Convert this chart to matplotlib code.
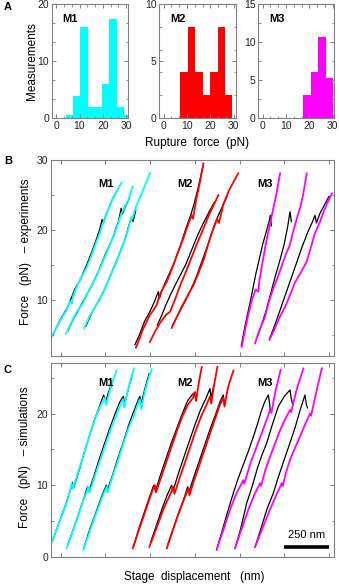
import matplotlib
matplotlib.use('Agg')
import matplotlib.pyplot as plt
from matplotlib.ticker import MultipleLocator, FixedLocator

plt.rcParams['font.family'] = ['Liberation Sans', 'DejaVu Sans']

CYAN = '#00ffff'
RED = '#ff0000'
MAGENTA = '#ff00ff'
SPINE = '#808080'

# ---- panel A: rupture force histograms (bin left edge, width, counts)
m1_edges = [4.2, 7.3, 10.4, 13.5, 16.6, 19.7, 22.8, 25.9, 29.0]
m1_counts = [0.6, 3.9, 16.0, 1.9, 1.9, 6.0, 17.3, 1.9, 0.6]
m1_width = 3.1
m2_edges = [7.1, 10.3, 13.5, 16.7, 19.9, 23.1, 26.3]
m2_counts = [4.0, 8.0, 4.0, 2.0, 4.0, 8.0, 2.0]
m2_width = 3.2
m3_edges = [17.4, 20.6, 23.8, 27.0]
m3_counts = [3.0, 6.0, 10.6, 5.3]
m3_width = 3.2

# ---- panel B: experimental traces, (stage displacement nm, force pN)
exp_m1_col = [
    [(-50, 4.8), (-20, 6.2), (10, 7.6), (30, 8.4), (52, 9.8), (62, 9.5), (70, 10.6), (95, 12.2), (120, 13.4),
     (145, 14.6), (170, 16.2), (200, 18.3), (220, 19.6), (238, 21.0), (260, 22.6), (290, 24.3), (315, 25.6), (341, 26.8)],
    [(30, 5.2), (60, 6.8), (90, 8.3), (126, 9.6), (150, 11.0), (185, 12.6), (220, 14.5), (255, 16.6), (294, 19.0),
     (320, 20.8), (341, 22.4), (360, 23.4), (380, 24.4), (403, 26.2)],
    [(132, 6.0), (160, 7.6), (190, 8.9), (220, 10.2), (250, 11.8), (280, 13.6), (313, 15.5), (340, 17.3), (365, 19.0),
     (388, 21.0), (392, 21.8), (400, 21.6), (425, 23.6), (450, 25.0), (475, 26.6), (499, 28.1)],
]
exp_m1_blk = [
    [(-45, 4.9), (0, 7.3), (40, 9.0), (80, 11.6), (110, 12.9), (150, 15.3), (185, 17.6), (215, 19.8), (232, 21.5),
     (240, 21.0), (255, 22.3), (290, 24.4), (320, 25.8)],
    [(40, 5.6), (70, 7.2), (100, 8.6), (130, 10.0), (170, 11.9), (210, 14.0), (250, 16.5), (290, 18.8), (325, 21.4),
     (338, 23.1), (345, 22.3), (365, 23.5), (385, 24.6)],
    [(140, 6.2), (175, 8.2), (210, 9.8), (240, 11.2), (270, 13.0), (300, 14.8), (330, 16.7), (360, 18.7), (380, 20.5),
     (395, 21.8), (405, 21.2), (420, 22.8)],
]
exp_m2_col = [
    [(421, 3.2), (440, 4.4), (460, 5.8), (481, 6.9), (500, 7.9), (520, 8.6), (537, 9.3), (555, 10.8), (575, 11.8),
     (593, 12.6), (620, 14.3), (650, 16.4), (686, 18.8), (710, 20.6), (732, 22.1), (740, 21.6), (760, 24.6),
     (780, 27.0), (798, 29.5)],
    [(499, 4.0), (530, 5.6), (560, 6.9), (590, 7.9), (611, 8.3), (640, 10.1), (670, 12.2), (700, 14.0), (723, 15.5),
     (760, 17.9), (798, 20.2), (830, 22.2), (860, 23.8), (882, 25.0)],
    [(621, 6.0), (650, 7.6), (680, 9.2), (710, 10.6), (742, 12.1), (770, 13.8), (800, 15.8), (835, 18.8), (860, 20.6),
     (875, 21.6), (885, 21.0), (909, 23.6), (940, 25.6), (965, 26.8), (993, 28.1)],
]
exp_m2_blk = [
    [(415, 3.6), (440, 5.0), (470, 7.0), (500, 8.4), (525, 9.8), (546, 11.2), (552, 10.2), (565, 11.3), (590, 12.8),
     (630, 15.0), (670, 17.8), (700, 20.2), (725, 22.0), (745, 23.6), (770, 26.2), (795, 29.0)],
    [(540, 6.4), (565, 7.8), (590, 9.4), (615, 10.8), (640, 12.1), (670, 13.6), (700, 15.1), (730, 17.0), (765, 19.2),
     (798, 21.0), (830, 22.6), (860, 24.0)],
    [(625, 6.3), (660, 8.1), (700, 10.0), (730, 11.6), (760, 13.4), (795, 15.9), (830, 18.4), (855, 20.4), (880, 22.0),
     (905, 23.4), (930, 24.8)],
]
exp_m3_col = [
    [(1012, 3.3), (1030, 5.6), (1050, 8.0), (1070, 10.0), (1090, 11.5), (1105, 11.2), (1110, 12.6), (1130, 15.6),
     (1150, 18.4), (1170, 20.8), (1190, 23.2), (1205, 25.0), (1227, 28.1)],
    [(1087, 3.8), (1110, 5.6), (1140, 7.4), (1165, 9.8), (1189, 11.7), (1210, 13.0), (1235, 14.8), (1260, 16.6),
     (1282, 17.9), (1300, 19.8), (1320, 21.6), (1338, 23.1), (1355, 25.0), (1376, 28.1)],
    [(1167, 4.3), (1195, 5.8), (1225, 7.6), (1255, 9.0), (1282, 10.7), (1310, 12.5), (1340, 13.8), (1376, 15.5),
     (1400, 17.6), (1420, 19.4), (1450, 21.2), (1470, 22.6), (1490, 23.8), (1516, 25.2)],
]
exp_m3_blk = [
    [(1010, 3.5), (1030, 6.2), (1050, 8.6), (1070, 11.0), (1090, 13.6), (1110, 15.8), (1130, 18.0), (1150, 19.8),
     (1165, 21.2), (1172, 22.1), (1178, 20.6)],
    [(1100, 4.8), (1125, 6.6), (1150, 8.6), (1175, 11.0), (1200, 13.4), (1225, 15.6), (1250, 18.0), (1270, 20.6),
     (1282, 22.6), (1290, 21.2)],
    [(1170, 4.6), (1200, 6.6), (1230, 8.8), (1260, 11.0), (1290, 13.2), (1320, 15.4), (1350, 17.6), (1380, 19.6),
     (1405, 21.0), (1422, 22.1), (1430, 21.0), (1450, 22.4), (1475, 23.6), (1500, 24.8)],
]

# ---- panel C: simulated traces
sim_m1_col = [
    [(-50, 2.0), (-20, 4.0), (10, 6.0), (40, 8.0), (62, 10.3), (68, 9.5), (90, 11.2), (120, 13.6), (145, 15.6),
     (170, 17.6), (200, 19.8), (225, 21.2), (248, 22.2), (255, 21.2), (275, 23.2), (295, 24.8), (313, 26.0)],
    [(33, 1.2), (60, 3.0), (90, 5.2), (120, 7.4), (150, 9.4), (155, 9.8), (162, 9.0), (190, 11.2), (220, 13.4),
     (250, 15.6), (280, 17.8), (305, 19.4), (330, 21.0), (350, 22.0), (356, 20.8), (375, 23.2), (392, 24.8), (410, 26.3)],
    [(126, 1.0), (150, 2.6), (180, 4.8), (210, 6.8), (240, 8.8), (257, 9.8), (263, 9.0), (290, 11.2), (320, 13.4),
     (350, 15.8), (380, 18.0), (410, 19.8), (430, 21.2), (443, 22.0), (450, 20.6), (470, 23.0), (490, 24.8), (509, 26.2)],
]
sim_m1_blk = [
    [(-45, 2.3), (0, 5.4), (30, 7.4), (60, 9.8), (66, 10.4), (72, 9.6), (100, 11.8), (130, 14.4), (160, 16.8),
     (190, 19.2), (220, 21.2), (240, 22.6), (248, 22.1), (252, 21.6), (265, 22.8), (290, 24.6)],
    [(38, 1.6), (70, 3.8), (100, 6.0), (130, 8.2), (150, 9.8), (158, 9.2), (185, 11.2), (215, 13.6), (245, 15.8),
     (275, 18.0), (305, 20.0), (330, 21.6), (350, 22.4), (358, 21.4), (380, 23.6), (400, 25.4)],
    [(130, 1.3), (165, 4.0), (200, 6.4), (235, 8.8), (255, 10.0), (262, 9.4), (290, 11.4), (320, 13.8), (350, 16.0),
     (380, 18.4), (410, 20.4), (435, 22.0), (443, 22.4), (450, 21.4), (470, 23.4), (495, 25.6)],
]
sim_m2_col = [
    [(403, 1.2), (430, 3.2), (460, 5.4), (490, 7.6), (515, 9.4), (527, 10.0), (533, 9.0), (560, 11.0), (590, 13.2),
     (620, 15.4), (650, 17.6), (680, 19.6), (710, 21.2), (740, 22.2), (751, 23.0), (758, 21.8), (770, 24.0), (789, 26.5)],
    [(496, 1.4), (520, 3.0), (550, 5.0), (580, 7.0), (610, 8.6), (630, 9.8), (636, 8.8), (665, 11.0), (695, 13.2),
     (725, 15.4), (755, 17.6), (785, 19.6), (815, 21.2), (835, 22.4), (842, 21.4), (858, 24.0), (876, 26.5)],
    [(593, 1.2), (620, 3.2), (650, 5.4), (680, 7.4), (705, 9.0), (714, 9.6), (720, 8.6), (745, 10.6), (775, 12.8),
     (805, 15.0), (835, 17.2), (865, 19.4), (890, 21.2), (909, 22.2), (916, 21.0), (935, 23.6), (950, 24.8), (966, 26.0)],
]
sim_m2_blk = [
    [(408, 1.5), (440, 4.2), (470, 6.4), (500, 8.6), (520, 10.0), (530, 9.2), (560, 11.6), (590, 13.8), (620, 16.0),
     (650, 18.0), (680, 20.0), (710, 21.8), (735, 22.6), (751, 23.0), (755, 21.8)],
    [(505, 2.2), (535, 4.4), (565, 6.6), (595, 8.6), (620, 10.0), (628, 9.2), (655, 11.4), (690, 14.0), (720, 16.2),
     (750, 18.4), (780, 20.4), (810, 22.0), (835, 23.5), (840, 22.2), (855, 23.8)],
    [(600, 1.8), (630, 4.0), (660, 6.2), (690, 8.2), (710, 9.8), (716, 9.0), (745, 11.2), (775, 13.4), (805, 15.6),
     (835, 17.8), (865, 19.8), (890, 21.6), (909, 22.6), (915, 21.4)],
]
sim_m3_col = [
    [(872, 1.0), (910, 3.8), (947, 6.6), (985, 9.0), (1021, 10.7), (1026, 10.2), (1060, 13.0), (1096, 15.4),
     (1135, 18.0), (1171, 20.5), (1178, 20.1), (1200, 23.0), (1230, 26.1)],
    [(975, 1.2), (1010, 3.8), (1049, 6.6), (1085, 8.8), (1115, 10.3), (1120, 9.9), (1145, 12.2), (1171, 14.0),
     (1200, 15.9), (1227, 17.7), (1255, 19.2), (1282, 20.5), (1288, 20.2), (1320, 23.4), (1357, 26.3)],
    [(1087, 1.4), (1125, 3.8), (1170, 6.6), (1205, 8.6), (1236, 10.3), (1242, 9.9), (1260, 11.8), (1282, 13.5),
     (1310, 15.2), (1338, 16.8), (1365, 18.4), (1394, 20.0), (1400, 19.7), (1430, 23.1), (1460, 26.3)],
]
sim_m3_blk = [
    [(872, 1.0), (900, 3.4), (930, 6.0), (965, 8.9), (990, 10.8), (1020, 12.8), (1050, 14.8), (1075, 16.6),
     (1096, 18.2), (1120, 20.2), (1140, 21.6), (1161, 22.6), (1168, 21.4), (1172, 20.4)],
    [(975, 1.2), (1005, 3.8), (1040, 7.5), (1070, 9.8), (1100, 12.4), (1125, 14.2), (1152, 15.9), (1185, 18.6),
     (1217, 21.0), (1250, 22.4), (1282, 23.3), (1290, 22.0), (1298, 21.2)],
    [(1087, 1.4), (1120, 4.0), (1155, 6.8), (1189, 8.9), (1215, 11.0), (1250, 13.6), (1282, 15.9), (1310, 18.0),
     (1340, 20.6), (1366, 22.6), (1374, 21.2), (1380, 20.8)],
]

mol_names = ['M1', 'M2', 'M3']
scale_nm = 250


def style_axes(ax):
    for s in ax.spines.values():
        s.set_color(SPINE)
        s.set_linewidth(0.8)
    ax.tick_params(which='both', direction='in', top=True, right=True, color=SPINE,
                   labelsize=7.5, labelcolor='#222222', pad=2)
    ax.tick_params(which='major', length=3, width=0.7)
    ax.tick_params(which='minor', length=1.8, width=0.6)


fig = plt.figure(figsize=(3.39, 5.85), dpi=100)

# ---- A
hist_specs = [
    (0.1534, m1_edges, m1_counts, m1_width, CYAN, 20, 10, 10 / 3),
    (0.4705, m2_edges, m2_counts, m2_width, RED, 10, 5, 2),
    (0.7625, m3_edges, m3_counts, m3_width, MAGENTA, 15, 5, 2.5),
]
for i, (left, edges, counts, w, col, ymax, ymaj, ymin) in enumerate(hist_specs):
    ax = fig.add_axes([left, 0.7983, 0.2242, 0.1949])
    ax.bar(edges, counts, width=w, align='edge', color=col, edgecolor='none')
    ax.set_xlim(-1.8, 30.8)
    ax.set_ylim(0, ymax)
    ax.xaxis.set_major_locator(FixedLocator([0, 10, 20, 30]))
    ax.xaxis.set_minor_locator(MultipleLocator(10 / 3))
    ax.yaxis.set_major_locator(MultipleLocator(ymaj))
    ax.yaxis.set_minor_locator(MultipleLocator(ymin))
    style_axes(ax)
    ax.text(0.14, 0.865, mol_names[i], transform=ax.transAxes, fontsize=8, fontweight='bold', va='center')
    if i == 0:
        ax.set_ylabel('Measurements', fontsize=8.5, labelpad=0)

fig.text(197 / 339, 1 - 143 / 585, 'Rupture  force  (pN)', fontsize=8.5, ha='center', va='center')


def trace_panel(rect, ylim, ymaj, col_sets, blk_sets, colors, label_y):
    ax = fig.add_axes(rect)
    for cols, blks, c in zip(col_sets, blk_sets, colors):
        for tr in blks:
            ax.plot([p[0] for p in tr], [p[1] for p in tr], color='black', lw=0.9)
        for tr in cols:
            ax.plot([p[0] for p in tr], [p[1] for p in tr], color=c, lw=1.3)
    ax.set_xlim(-54, 1528)
    ax.set_ylim(*ylim)
    ax.xaxis.set_major_locator(MultipleLocator(scale_nm))
    ax.xaxis.set_ticklabels([])
    ax.yaxis.set_major_locator(MultipleLocator(ymaj))
    ax.yaxis.set_minor_locator(MultipleLocator(ymaj / 2))
    style_axes(ax)
    for name, xn in zip(mol_names, [0.195, 0.475, 0.755]):
        ax.text(xn, label_y, name, transform=ax.transAxes, fontsize=8, fontweight='bold', ha='center', va='center')
    return ax


axB = trace_panel([0.1504, 0.3915, 0.8348, 0.3350], (2, 30), 10,
                  [exp_m1_col, exp_m2_col, exp_m3_col], [exp_m1_blk, exp_m2_blk, exp_m3_blk],
                  [CYAN, RED, MAGENTA], 0.88)
axC = trace_panel([0.1504, 0.0479, 0.8348, 0.3316], (0, 27.06), 10,
                  [sim_m1_col, sim_m2_col, sim_m3_col], [sim_m1_blk, sim_m2_blk, sim_m3_blk],
                  [CYAN, RED, MAGENTA], 0.895)

# scale bar
axC.plot([1250, 1250 + scale_nm], [1.45, 1.45], color='black', lw=2.6, solid_capstyle='butt')
axC.text(1250 + scale_nm / 2, 2.4, '250 nm', fontsize=8, ha='center', va='bottom')

fig.text(26 / 339, 1 - 252 / 585, 'Force   (pN)   \u2013 experiments', fontsize=8.5, rotation=90,
         ha='center', va='center')
fig.text(25 / 339, 1 - 457 / 585, 'Force   (pN)   \u2013 simulations', fontsize=8.5, rotation=90,
         ha='center', va='center')
fig.text(194 / 339, 1 - 577 / 585, 'Stage  displacement   (nm)', fontsize=8.5, ha='center', va='center')

for letter, yy in [('A', 7), ('B', 161), ('C', 370)]:
    fig.text(4 / 339, 1 - yy / 585, letter, fontsize=8, fontweight='bold', ha='left', va='center')

fig.savefig('out.png', dpi=100)
